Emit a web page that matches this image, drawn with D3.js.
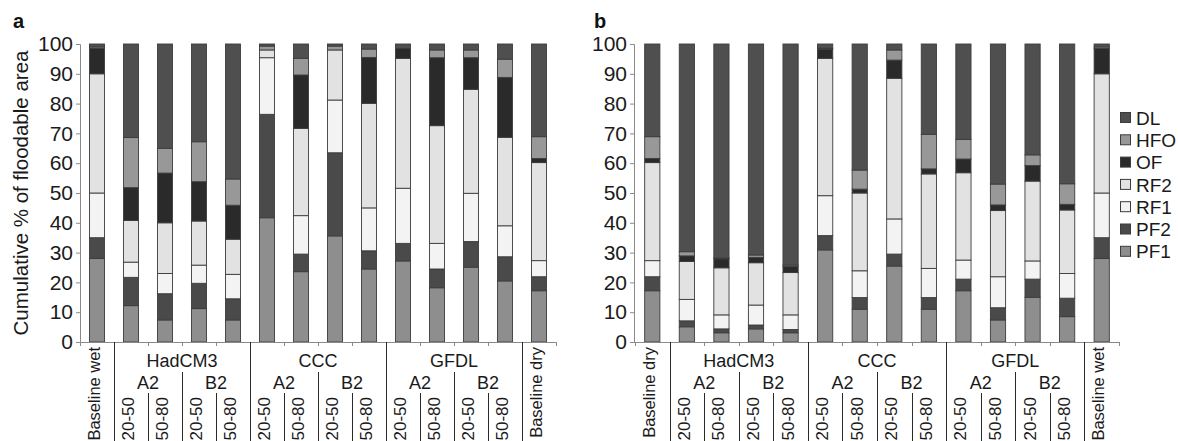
<!DOCTYPE html>
<html>
<head>
<meta charset="utf-8">
<script src="https://cdn.jsdelivr.net/npm/d3@7"></script>
<style>
  html, body { margin: 0; padding: 0; background: #fff; }
  svg { display: block; font-family: 'Liberation Sans', Arial, sans-serif; }
</style>
</head>
<body>
<svg id="chart" width="1178" height="441"></svg>
<script>
// stack order, bottom to top
const seriesNames = ['PF1', 'PF2', 'RF1', 'RF2', 'OF', 'HFO', 'DL'];
const seriesColors = ['#8e8e8e', '#4a4a4a', '#f3f3f3', '#e2e2e2', '#2a2a2a', '#989898', '#4f4f4f'];

const models = ['HadCM3', 'CCC', 'GFDL'];
const scenarios = ['A2', 'B2'];
const periods = ['20-50', '50-80'];
const baselinesA = ['Baseline wet', 'Baseline dry'];
const baselinesB = ['Baseline dry', 'Baseline wet'];
const yTicks = [0, 10, 20, 30, 40, 50, 60, 70, 80, 90, 100];

// panel a, share (%) of each class per bar
const pf1A = [28, 12.2, 7.4, 11.2, 7.4, 41.7, 23.6, 35.6, 24.5, 27.2, 18.2, 25.1, 20.5, 17.2];
const pf2A = [7, 9.5, 8.8, 8.5, 7.1, 34.7, 5.9, 27.9, 6.1, 5.9, 6.3, 8.6, 8.1, 4.7];
const rf1A = [15, 5.1, 6.8, 6.1, 8.2, 19, 12.9, 17.7, 14.4, 18.5, 8.6, 16.2, 10.4, 5.4];
const rf2A = [40, 14, 17, 14.8, 11.8, 2.6, 29.3, 16.8, 35.1, 43.6, 39.5, 34.9, 29.7, 32.9];
const ofA = [8.5, 11, 16.7, 13.2, 11.4, 0, 17.9, 0, 15.4, 3.3, 22.8, 10.6, 20.1, 1.4];
const hfoA = [0.5, 16.8, 8.3, 13.4, 8.8, 1.3, 5.6, 1.3, 2.8, 0, 2.6, 2.6, 6.1, 7.3];
const dlA = [1, 31.4, 35, 32.8, 45.3, 0.7, 4.8, 0.7, 1.7, 1.5, 2, 2, 5.1, 31.1];

// panel b
const pf1B = [17.2, 5.1, 3.1, 4.4, 3.1, 30.9, 11, 25.5, 11, 17.2, 7.4, 15, 8.5, 28];
const pf2B = [4.7, 2, 1.3, 1.3, 1.1, 4.8, 3.9, 4, 3.9, 3.9, 4.1, 6.1, 6.2, 7];
const rf1B = [5.4, 7.2, 4.7, 6.7, 4.9, 13.4, 9, 11.8, 9.8, 6.4, 10.4, 6.1, 8.3, 15];
const rf2B = [32.9, 12.7, 15.8, 14.2, 14.2, 46.1, 26.1, 47.2, 31.7, 29.3, 22.2, 26.8, 21.3, 40];
const ofB = [1.4, 1.9, 3, 1.8, 2, 3.1, 1.3, 6.1, 1.7, 4.6, 1.9, 5.2, 1.9, 8.5];
const hfoB = [7.3, 1.4, 0.3, 0.8, 0.5, 0.3, 6.4, 3.4, 11.6, 6.6, 7, 3.6, 6.9, 0.5];
const dlB = [31.1, 69.7, 71.8, 70.8, 74.2, 1.4, 42.3, 2, 30.3, 32, 47, 37.2, 46.9, 1];

const legendOrder = ['DL', 'HFO', 'OF', 'RF2', 'RF1', 'PF2', 'PF1'];

const svg = d3.select('#chart');
const color = d3.scaleOrdinal().domain(seriesNames).range(seriesColors);

const yTop = 44, yBot = 342, H = 441;
const y = d3.scaleLinear().domain([0, 100]).range([yBot, yTop]);

function buildRows(baselines, cols) {
	// category list: baseline, 12 model runs, baseline
	const cats = [baselines[0]];
	models.forEach(m => scenarios.forEach(s => periods.forEach(p => cats.push(m + ' ' + s + ' ' + p))));
	cats.push(baselines[1]);
	return cats.map((c, i) => {
		const row = { cat: c };
		seriesNames.forEach((n, j) => { row[n] = cols[j][i]; });
		return row;
	});
}

function drawPanel(opts) {
	const { rows, baselines, x0, x1, yAxisX, letter, letterX } = opts;
	const g = svg.append('g');

	const x = d3.scaleBand()
		.domain(rows.map(d => d.cat))
		.range([x0, x1])
		.paddingInner(0.56)
		.paddingOuter(0.28);
	const step = x.step();
	const bw = x.bandwidth();
	const off = (step - bw) / 2;

	const stacked = d3.stack().keys(seriesNames)(rows);

	// bars
	g.selectAll('g.layer')
		.data(stacked)
		.enter()
		.append('g')
		.attr('class', 'layer')
		.attr('fill', d => color(d.key))
		.selectAll('rect')
		.data(d => d.filter(s => s[1] - s[0] > 0))
		.enter()
		.append('rect')
		.attr('x', d => x(d.data.cat))
		.attr('width', bw)
		.attr('y', d => y(d[1]))
		.attr('height', d => y(d[0]) - y(d[1]))
		.attr('stroke', '#3c3c3c')
		.attr('stroke-width', 0.9);

	// y axis
	const yAxis = d3.axisLeft(y).tickValues(yTicks).tickSize(4).tickPadding(3);
	const ya = g.append('g')
		.attr('transform', `translate(${yAxisX},0)`)
		.call(yAxis);
	ya.attr('font-size', null).attr('font-family', null);
	ya.select('.domain').attr('stroke', '#8a8a8a');
	ya.selectAll('.tick line').attr('stroke', '#8a8a8a');
	ya.selectAll('.tick text')
		.style('font-size', '21px')
		.attr('fill', '#1a1a1a');

	// x axis line and boundary ticks
	g.append('line')
		.attr('x1', yAxisX).attr('x2', x1)
		.attr('y1', yBot + 0.5).attr('y2', yBot + 0.5)
		.attr('stroke', '#8a8a8a');
	const bounds = d3.range(rows.length + 1).map(i => i === rows.length ? x1 : x(rows[i].cat) - off);
	g.selectAll('line.xt')
		.data(bounds)
		.enter()
		.append('line')
		.attr('x1', d => Math.round(d) + 0.5).attr('x2', d => Math.round(d) + 0.5)
		.attr('y1', yBot).attr('y2', yBot + 4)
		.attr('stroke', '#8a8a8a');

	// hierarchical separators
	const sepLine = (i, top) => g.append('line')
		.attr('x1', Math.round(bounds[i]) + 0.5).attr('x2', Math.round(bounds[i]) + 0.5)
		.attr('y1', top).attr('y2', H)
		.attr('stroke', '#2a2a2a').attr('stroke-width', 1);
	[1, 5, 9, 13].forEach(i => sepLine(i, yBot));
	[3, 7, 11].forEach(i => sepLine(i, 372));
	[2, 4, 6, 8, 10, 12].forEach(i => sepLine(i, 393));

	const vText = (cx, top, txt, size) => g.append('text')
		.attr('transform', `translate(${cx - 3},${top}) rotate(-90)`)
		.attr('text-anchor', 'end')
		.attr('dy', '0.35em')
		.attr('font-size', size)
		.attr('fill', '#1a1a1a')
		.text(txt);
	const hText = (cx, base, txt) => g.append('text')
		.attr('x', cx).attr('y', base)
		.attr('text-anchor', 'middle')
		.attr('font-size', 18)
		.attr('fill', '#1a1a1a')
		.text(txt);

	const center = i => x(rows[i].cat) + bw / 2;
	vText(center(0), 347, baselines[0], 16.5);
	vText(center(rows.length - 1), 347, baselines[1], 16.5);
	models.forEach((m, mi) => {
		const s0 = 1 + mi * 4;
		hText((bounds[s0] + bounds[s0 + 4]) / 2, 367, m);
		scenarios.forEach((s, si) => {
			const p0 = s0 + si * 2;
			hText((bounds[p0] + bounds[p0 + 2]) / 2, 389, s);
			periods.forEach((p, pi) => vText(center(p0 + pi), 397, p, 17));
		});
	});

	// panel letter
	g.append('text')
		.attr('x', letterX).attr('y', 28)
		.attr('font-size', 20)
		.attr('font-weight', 'bold')
		.attr('fill', '#111')
		.text(letter);
}

const rowsA = buildRows(baselinesA, [pf1A, pf2A, rf1A, rf2A, ofA, hfoA, dlA]);
const rowsB = buildRows(baselinesB, [pf1B, pf2B, rf1B, rf2B, ofB, hfoB, dlB]);

drawPanel({ rows: rowsA, baselines: baselinesA, x0: 80, x1: 556, yAxisX: 80, letter: 'a', letterX: 13 });
drawPanel({ rows: rowsB, baselines: baselinesB, x0: 635, x1: 1119, yAxisX: 634, letter: 'b', letterX: 594 });

// y axis title (panel a)
svg.append('text')
	.attr('transform', `translate(28,${(yTop + yBot) / 2}) rotate(-90)`)
	.attr('text-anchor', 'middle')
	.attr('font-size', 20.5)
	.attr('fill', '#1a1a1a')
	.text('Cumulative % of floodable area');

// legend
const leg = svg.append('g')
	.selectAll('g')
	.data(legendOrder)
	.enter()
	.append('g')
	.attr('transform', (d, i) => `translate(1120,${118 + i * 22.3})`);
leg.append('rect')
	.attr('x', 0.5).attr('y', -5.5)
	.attr('width', 10).attr('height', 10)
	.attr('fill', d => color(d))
	.attr('stroke', '#3c3c3c');
leg.append('text')
	.attr('x', 16).attr('dy', '0.35em')
	.attr('font-size', 19)
	.attr('fill', '#1a1a1a')
	.text(d => d);
</script>
</body>
</html>
